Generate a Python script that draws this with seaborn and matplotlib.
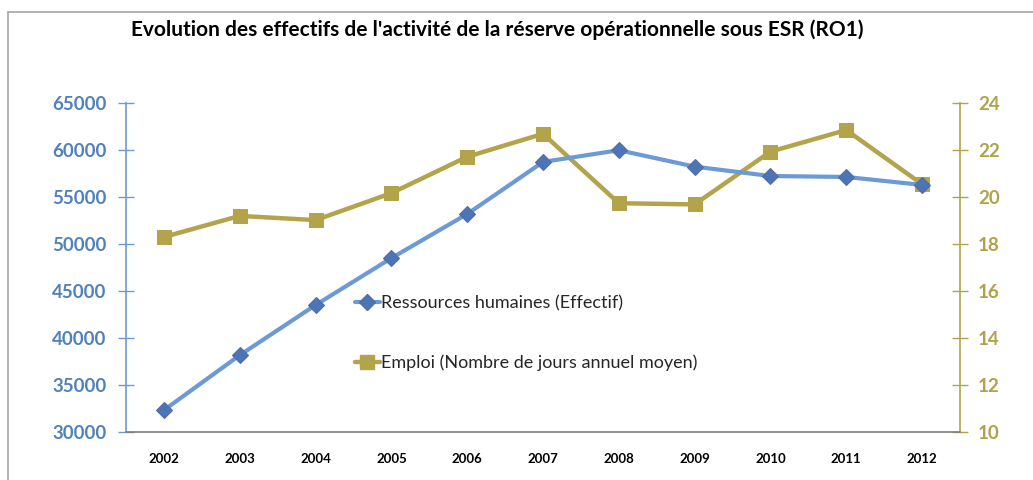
import matplotlib
matplotlib.use("Agg")
import matplotlib.pyplot as plt
import seaborn as sns
import pandas as pd
import numpy as np
from matplotlib.patches import Rectangle
from matplotlib.lines import Line2D

years = [2002, 2003, 2004, 2005, 2006, 2007, 2008, 2009, 2010, 2011, 2012]
effectif = [32300, 38150, 43500, 48500, 53200, 58750, 60000, 58250, 57250, 57150, 56300]
jours = [18.3, 19.2, 19.02, 20.17, 21.72, 22.7, 19.74, 19.69, 21.94, 22.86, 20.55]

left_ticks = [30000, 35000, 40000, 45000, 50000, 55000, 60000, 65000]
right_ticks = [10, 12, 14, 16, 18, 20, 22, 24]

title = "Evolution des effectifs de l'activité de la réserve opérationnelle sous ESR (RO1)"
label_rh = "Ressources humaines (Effectif)"
label_emp = "Emploi (Nombre de jours annuel moyen)"

df = pd.DataFrame({"annee": years, "effectif": effectif, "jours": jours})

sns.set_theme(style="white")
plt.rcParams['font.family'] = ['Lato', 'DejaVu Sans']

blue_line = "#6C9AD6"
blue_mark = "#4A76B8"
blue_text = "#4F81BD"
olive = "#B3A34B"
olive_text = "#B0A24A"

fig = plt.figure(figsize=(10.33, 4.8), dpi=100)
# outer frame
fig.patches.append(Rectangle((8/1033, -0.05), 1.1, 1 - 12/480 + 0.05, transform=fig.transFigure,
                             fill=False, edgecolor="#A6A6A6", linewidth=1.2))

ax = fig.add_axes([126/1033, 1 - 431.7/480, (960 - 126)/1033, (431.7 - 103.3)/480])
ax2 = ax.twinx()

sns.lineplot(data=df, x="annee", y="effectif", ax=ax, color=blue_line, linewidth=3,
             marker="D", markersize=8, markerfacecolor=blue_mark, markeredgecolor="#5A6AA0",
             markeredgewidth=0.8, zorder=3)
sns.lineplot(data=df, x="annee", y="jours", ax=ax2, color=olive, linewidth=3.2,
             marker="s", markersize=9.5, markerfacecolor=olive, markeredgecolor=olive,
             zorder=3)

ax.set_xlim(years[0] - 0.5, years[-1] + 0.5)
ax.set_ylim(left_ticks[0], left_ticks[-1])
ax2.set_ylim(right_ticks[0], right_ticks[-1])
ax.set_yticks(left_ticks)
ax2.set_yticks(right_ticks)
ax.set_xticks(years)
ax.set_xticklabels([str(y) for y in years], fontsize=9.5, fontweight="bold", color="black")
ax.set_xticks([y - 0.5 for y in years] + [years[-1] + 0.5], minor=True)
ax.tick_params(axis="x", which="major", length=0, pad=15)
ax.tick_params(axis="x", which="minor", length=8, direction="inout", color="#808080", width=1)
ax.set_yticklabels([str(t) for t in left_ticks], fontsize=13.5, fontweight="bold", color=blue_text)
ax.tick_params(axis="y", which="major", length=12, direction="inout", color=blue_line, width=1, pad=8, left=True)
ax2.set_yticklabels([str(t) for t in right_ticks], fontsize=13.5, fontweight="bold", color=olive_text)
ax2.tick_params(axis="y", which="major", length=12, direction="inout", color=olive, width=1, pad=7, right=True)

ax.set_xlabel("")
ax.set_ylabel("")
ax2.set_ylabel("")
for a in (ax, ax2):
    a.spines["top"].set_visible(False)
    a.grid(False)
ax.spines["right"].set_visible(False)
ax2.spines["left"].set_visible(False)
ax2.spines["bottom"].set_visible(False)
ax.spines["left"].set_color(blue_line)
ax.spines["left"].set_linewidth(1.2)
ax.spines["bottom"].set_color("#808080")
ax.spines["bottom"].set_linewidth(1.2)
ax2.spines["right"].set_color(olive)
ax2.spines["right"].set_linewidth(1.2)
ax.set_zorder(ax2.get_zorder() + 1)
ax.patch.set_visible(False)

handles = [
    Line2D([], [], color=blue_line, linewidth=3, marker="D", markersize=8,
           markerfacecolor=blue_mark, markeredgecolor="#5A6AA0"),
    Line2D([], [], color=olive, linewidth=3.2, marker="s", markersize=9.5,
           markerfacecolor=olive, markeredgecolor=olive),
]
ax.legend(handles, [label_rh, label_emp], loc="upper left",
          bbox_to_anchor=((348 - 126) / 834, (431.7 - 288) / 328.4),
          frameon=False, fontsize=13, labelspacing=2.4, handlelength=1.35,
          handletextpad=0.1, borderaxespad=0)

fig.text(497/1033, 1 - 30/480, title, ha="center", va="center", fontsize=15, fontweight="bold", color="black")

fig.savefig("out.png", dpi=100, facecolor="white")
